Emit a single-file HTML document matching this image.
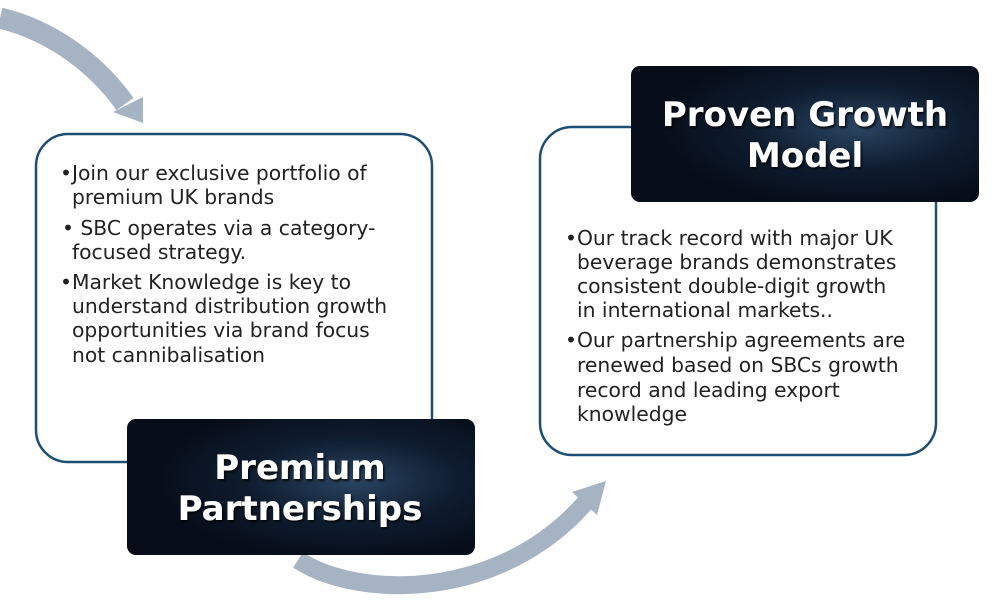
<!DOCTYPE html>
<html><head><meta charset="utf-8"><style>
html,body{margin:0;padding:0;background:#fff;width:1000px;height:600px;overflow:hidden}
svg text{font-family:"DejaVu Sans","Liberation Sans",sans-serif}
</style></head><body>
<svg width="1000" height="600" viewBox="0 0 1000 600" xmlns="http://www.w3.org/2000/svg">
<defs>
<radialGradient id="g" cx="0.65" cy="0.45" r="0.6">
<stop offset="0" stop-color="#2a4562"/><stop offset="0.5" stop-color="#0f1d30"/><stop offset="1" stop-color="#060c18"/>
</radialGradient>
<filter id="sh"><feDropShadow dx="1.5" dy="2" stdDeviation="1" flood-color="#000" flood-opacity="0.8"/></filter>
</defs>
<path d="M0,18 C50,30 95,62 125,104" stroke="#a6b3c2" stroke-width="21" fill="none"/>
<polygon points="113,112 143,97 143,123" fill="#a6b3c2"/>
<path d="M298,560 C360,600 500,600 585,503" stroke="#a6b3c2" stroke-width="18" fill="none"/>
<polygon points="572,492 606,481 597,515" fill="#a6b3c2"/>
<rect x="36" y="134" width="396" height="328" rx="32" fill="#fff" stroke="#1d4f72" stroke-width="2.5"/>
<g font-size="20.3" fill="#222">
<text x="60" y="180">•Join our exclusive portfolio of</text>
<text x="72" y="204">premium UK brands</text>
<text x="62" y="235">• SBC operates via a category-</text>
<text x="72" y="259">focused strategy.</text>
<text x="60" y="289">•Market Knowledge is key to</text>
<text x="72" y="313">understand distribution growth</text>
<text x="72" y="337">opportunities via brand focus</text>
<text x="72" y="362">not cannibalisation</text>
</g>
<rect x="540" y="127" width="396" height="328" rx="32" fill="#fff" stroke="#1d4f72" stroke-width="2.5"/>
<g font-size="20.3" fill="#222">
<text x="565" y="245">•Our track record with major UK</text>
<text x="577" y="269">beverage brands demonstrates</text>
<text x="577" y="293">consistent double-digit growth</text>
<text x="577" y="317">in international markets..</text>
<text x="565" y="347">•Our partnership agreements are</text>
<text x="577" y="372">renewed based on SBCs growth</text>
<text x="577" y="397">record and leading export</text>
<text x="577" y="421">knowledge</text>
</g>
<rect x="127" y="419" width="348" height="136" rx="9" fill="url(#g)"/>
<g font-size="34" font-weight="bold" fill="#fff" text-anchor="middle" filter="url(#sh)">
<text x="300" y="479">Premium</text>
<text x="300" y="520">Partnerships</text>
</g>
<rect x="631" y="66" width="348" height="136" rx="9" fill="url(#g)"/>
<g font-size="34" font-weight="bold" fill="#fff" text-anchor="middle" filter="url(#sh)">
<text x="805" y="126">Proven Growth</text>
<text x="805" y="167">Model</text>
</g>
</svg>
</body></html>
